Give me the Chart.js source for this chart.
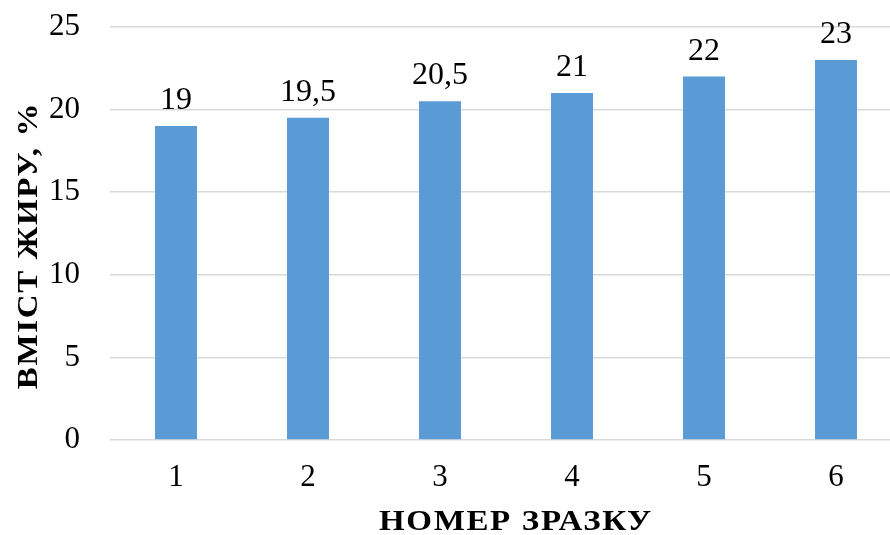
<!DOCTYPE html>
<html>
<head>
<meta charset="utf-8">
<script src="https://cdn.jsdelivr.net/npm/chart.js@4/dist/chart.umd.min.js"></script>
<style>
  html, body { margin: 0; padding: 0; background: #fff; overflow: hidden; }
  #wrap { width: 905px; height: 535px; position: relative; }
</style>
</head>
<body>
<div id="wrap"><canvas id="c"></canvas></div>
<script>
// Sample numbers and fat content (%)
const categories = ['1', '2', '3', '4', '5', '6'];
const fatValues = [19, 19.5, 20.5, 21, 22, 23];
const yTicks = [0, 5, 10, 15, 20, 25];
const xTitle = 'НОМЕР ЗРАЗКУ';
const yTitle = 'ВМІСТ ЖИРУ, %';

const FONT = '"Liberation Serif", "Times New Roman", serif';

// Writes each bar's value (decimal comma) above it
const valueLabels = {
  id: 'valueLabels',
  afterDatasetsDraw(chart) {
    const ctx = chart.ctx;
    const meta = chart.getDatasetMeta(0);
    ctx.save();
    ctx.font = '32px ' + FONT;
    ctx.fillStyle = '#000';
    ctx.textAlign = 'center';
    ctx.textBaseline = 'alphabetic';
    meta.data.forEach((bar, i) => {
      const txt = String(fatValues[i]).replace('.', ',');
      ctx.fillText(txt, bar.x, bar.y - 17);
    });
    ctx.restore();
  }
};

// Bold, slightly widened axis titles
const axisTitles = {
  id: 'axisTitles',
  afterDraw(chart) {
    const ctx = chart.ctx;
    const area = chart.chartArea;
    const draw = (text, x, y, angle) => {
      ctx.save();
      ctx.translate(x, y);
      ctx.rotate(angle);
      ctx.scale(1.1, 1);
      ctx.font = 'bold 30px ' + FONT;
      ctx.fillStyle = '#000';
      ctx.textAlign = 'center';
      ctx.textBaseline = 'alphabetic';
      ctx.letterSpacing = '1.5px';
      ctx.fillText(text, 0, 0);
      ctx.restore();
    };
    draw(xTitle, 516, 530, 0);
    draw(yTitle, 37, (area.top + area.bottom) / 2 + 12, -Math.PI / 2);
  }
};

new Chart(document.getElementById('c'), {
  type: 'bar',
  data: {
    labels: categories,
    datasets: [{
      data: fatValues,
      backgroundColor: '#5B9BD5',
      borderWidth: 0,
      barPercentage: 1,
      categoryPercentage: 0.318
    }]
  },
  options: {
    responsive: true,
    maintainAspectRatio: false,
    animation: false,
    layout: { padding: { top: 27, right: 3, bottom: 0, left: 0 } },
    plugins: { legend: { display: false }, tooltip: { enabled: false } },
    scales: {
      x: {
        grid: { display: false },
        border: { display: false },
        ticks: { color: '#000', font: { family: FONT, size: 31 }, padding: 11 },
        afterFit(axis) { axis.height = 95; }
      },
      y: {
        min: 0, max: 25,
        afterBuildTicks(axis) { axis.ticks = yTicks.map(v => ({ value: v })); },
        grid: { color: '#d9d9d9', lineWidth: 1.5, drawTicks: false },
        border: { display: false },
        ticks: { color: '#000', font: { family: FONT, size: 31 }, padding: 30 },
        afterFit(axis) {
          axis.width = 110;
          axis.paddingTop = 0;
          axis.paddingBottom = 0;
        }
      }
    }
  },
  plugins: [valueLabels, axisTitles]
});
</script>
</body>
</html>
